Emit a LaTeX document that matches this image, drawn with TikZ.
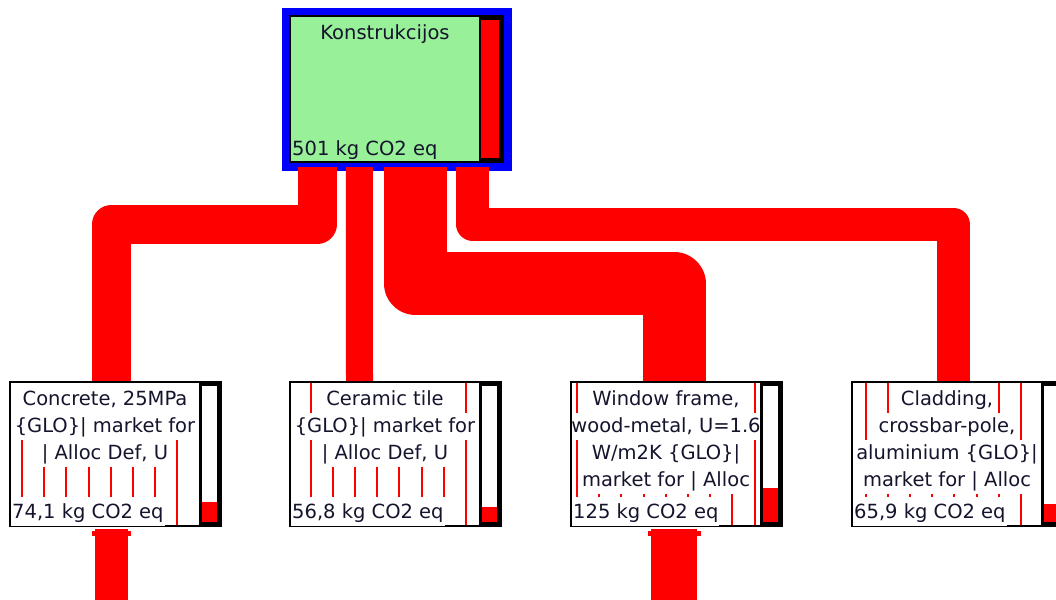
\documentclass[tikz,border=0pt]{standalone}
\usepackage{xcolor}
\usepackage{fontspec}
\setmainfont{DejaVu Sans}
\usepackage{tikz}
\definecolor{flowred}{RGB}{255, 0, 0}
\definecolor{rootblue}{RGB}{0, 0, 255}
\definecolor{rootgreen}{RGB}{152, 240, 152}
\definecolor{labelink}{RGB}{20, 20, 45}
\usetikzlibrary{positioning, calc}

\begin{document}
\begin{tikzpicture}[
    x=1pt, y=-1pt,
    every node/.style={font=\fontsize{19.5}{25}\selectfont, text=labelink},
    flow/.style={draw=flowred, line join=round},
    inlip/.style={draw=flowred, line width=5pt},
    rootbox/.style={rectangle, fill=rootblue, minimum width=230pt, minimum height=163pt, inner sep=0pt},
    procbox/.style={rectangle, draw=black, line width=2pt, fill=white, minimum width=211pt, minimum height=144pt, inner sep=0pt},
    txtline/.style={fill=white, inner xsep=4pt, inner ysep=0pt, text height=19pt, text depth=8pt, anchor=base},
    firstline/.style={txtline, text height=22pt},
    amount/.style={fill=white, inner xsep=1pt, inner ysep=0pt, text height=21pt, text depth=8pt, anchor=base west},
    stripe/.style={draw=flowred, line width=1.4pt}
]
    \useasboundingbox (0,0) rectangle (1056,599);

    % Root process
    \node[rootbox] (kon) at (397,89.5) {};
    \fill[black] (289,15) rectangle (504,163);
    \fill[rootgreen] (291,17) rectangle (479,161);
    \fill[flowred] (481,20) rectangle (499,158);
    \node[anchor=base] (kontitle) at (385,40) {Konstrukcijos};
    \node[anchor=base west, inner xsep=1pt] (konamount) at (291,155) {501 kg CO2 eq};

    % Input processes
    \node[procbox] (conc) at (115.5,454) {};
    \node[procbox] (cera) at (395.5,454) {};
    \node[procbox] (wind) at (676.5,454) {};
    \node[procbox] (clad) at (957.5,454) {};

    % Flows from the root
    \draw[flow, line width=39pt] ($(kon.south west)+(35.5,-4)$) -- ++(0,57) -| ([xshift=-4pt]conc.north);
    \draw[flow, line width=27pt] ($(kon.south west)+(77.5,-4)$) -- ([xshift=-36pt]cera.north);
    \draw[flow, line width=63pt] ($(kon.south west)+(134,-4)$) -- ++(0,116.5) -| ([xshift=-2.5pt]wind.north);
    \draw[flow, line width=33pt] ($(kon.south west)+(191,-4)$) -- ++(0,57) -| ([xshift=-4pt]clad.north);

    % Flows coming in from below
    \coordinate (concsrc) at (111.5,600);
    \coordinate (windsrc) at (674,600);
    \draw[flow, line width=33pt] (concsrc) -- ([xshift=-4pt,yshift=-2pt]conc.south);
    \draw[inlip] ([xshift=-23.5pt,yshift=-6.5pt]conc.south) -- ([xshift=15.5pt,yshift=-6.5pt]conc.south);
    \draw[flow, line width=46pt] (windsrc) -- ([xshift=-2.5pt,yshift=-2pt]wind.south);
    \draw[inlip] ([xshift=-28.5pt,yshift=-6.5pt]wind.south) -- ([xshift=24.5pt,yshift=-6.5pt]wind.south);

    % Red hatching behind the labels
    \begin{scope}
        \clip (11,383) rectangle (199,525) (291,383) rectangle (479,525)
              (572,383) rectangle (760,525) (853,383) rectangle (1041,525);
        \foreach \k in {0,...,46}
            \draw[stripe] ({round(22+22.2*\k)},383) -- ++(0,142);
    \end{scope}

    % Concrete
    \begin{scope}
        \clip (11,383) rectangle (199,525);
        \node[firstline] (conc1) at (105,405) {Concrete, 25MPa};
        \node[txtline] (conc2) at (105,432) {\{GLO\}| market for};
        \node[txtline] (conc3) at (105,459) {| Alloc Def, U};
        \node[amount] (concamount) at (11,518) {74,1 kg CO2 eq};
    \end{scope}
    \fill[black] (199,381) rectangle (222,527);
    \fill[white] (202,386) rectangle (217,522);
    \fill[flowred] (202,502) rectangle (217,522);

    % Ceramic tile
    \begin{scope}
        \clip (291,383) rectangle (479,525);
        \node[firstline] (cera1) at (385,405) {Ceramic tile};
        \node[txtline] (cera2) at (385,432) {\{GLO\}| market for};
        \node[txtline] (cera3) at (385,459) {| Alloc Def, U};
        \node[amount] (ceraamount) at (291,518) {56,8 kg CO2 eq};
    \end{scope}
    \fill[black] (479,381) rectangle (502,527);
    \fill[white] (482,386) rectangle (497,522);
    \fill[flowred] (482,506.6) rectangle (497,522);

    % Window frame
    \begin{scope}
        \clip (572,383) rectangle (760,525);
        \node[firstline] (wind1) at (666,405) {Window frame,};
        \node[txtline] (wind2) at (666,432) {wood-metal, U=1.6};
        \node[txtline] (wind3) at (666,459) {W/m2K \{GLO\}|};
        \node[txtline] (wind4) at (666,486) {market for | Alloc};
        \node[amount] (windamount) at (572,518) {125 kg CO2 eq};
    \end{scope}
    \fill[black] (760,381) rectangle (783,527);
    \fill[white] (763,386) rectangle (778,522);
    \fill[flowred] (763,488) rectangle (778,522);

    % Cladding
    \begin{scope}
        \clip (853,383) rectangle (1041,525);
        \node[firstline] (clad1) at (947,405) {Cladding,};
        \node[txtline] (clad2) at (947,432) {crossbar-pole,};
        \node[txtline] (clad3) at (947,459) {aluminium \{GLO\}|};
        \node[txtline] (clad4) at (947,486) {market for | Alloc};
        \node[amount] (cladamount) at (853,518) {65,9 kg CO2 eq};
    \end{scope}
    \fill[black] (1041,381) rectangle (1064,527);
    \fill[white] (1044,386) rectangle (1059,522);
    \fill[flowred] (1044,504) rectangle (1059,522);
\end{tikzpicture}
\end{document}
